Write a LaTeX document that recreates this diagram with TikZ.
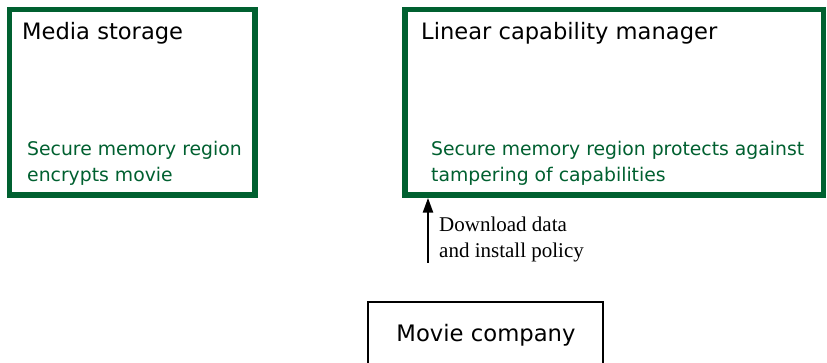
\documentclass[tikz,border=0pt]{standalone}
\usepackage{fontspec}
\setmainfont{Liberation Serif}
\newfontfamily\boxfont{DejaVu Sans}
\usetikzlibrary{arrows.meta}
\definecolor{secgreen}{RGB}{0,96,48}
\tikzset{
  securebox/.style={draw=secgreen, line width=5.5pt, inner sep=0pt, fill=white},
  plainbox/.style={draw=black, line width=1.6pt, inner sep=0pt},
  boxtitle/.style={anchor=base west, inner sep=0pt, font=\boxfont\fontsize{22.6}{27}\selectfont},
  boxnote/.style={anchor=base west, inner sep=0pt, text=secgreen, align=left,
    font=\boxfont\fontsize{18.8}{26}\selectfont},
  flowlabel/.style={anchor=base west, inner sep=0pt, align=left,
    font=\fontsize{21}{26}\selectfont},
  flowarrow/.style={-{Triangle[length=15pt,width=10pt]}, line width=2.6pt}
}
\begin{document}
\begin{tikzpicture}[x=1pt,y=-1pt]
  \useasboundingbox (0,0) rectangle (827,363);
  \begin{scope}
    \clip (0,0) rectangle (827,363);
    % storage and capability manager
    \node[securebox, minimum width=245.5pt, minimum height=185.5pt] (ms) at (132.25,102.25) {};
    \node[securebox, minimum width=418.5pt, minimum height=185.5pt] (lcm) at (614.25,102.25) {};
    % content provider, running off the bottom edge
    \node[plainbox, minimum width=235pt, minimum height=120pt] (mc) at (485.5,362) {};
  \end{scope}
  \node[boxtitle] (mst) at (22,40) {Media storage};
  \node[boxnote] (msn) at (27,182) {Secure memory region\\encrypts movie};
  \node[boxtitle] (lcmt) at (421,40) {Linear capability manager};
  \node[boxnote] (lcmn) at (431,182) {Secure memory region protects against\\tampering of capabilities};
  \node[anchor=base, inner sep=0pt, font=\boxfont\fontsize{22.7}{27}\selectfont] (mct) at (486,341) {Movie company};
  % download path
  \coordinate (dl) at (428,263);
  \draw[flowarrow] (dl) -- (dl |- lcm.south);
  \node[flowlabel] (dlt) at (439,258) {Download data\\and install policy};
\end{tikzpicture}
\end{document}
